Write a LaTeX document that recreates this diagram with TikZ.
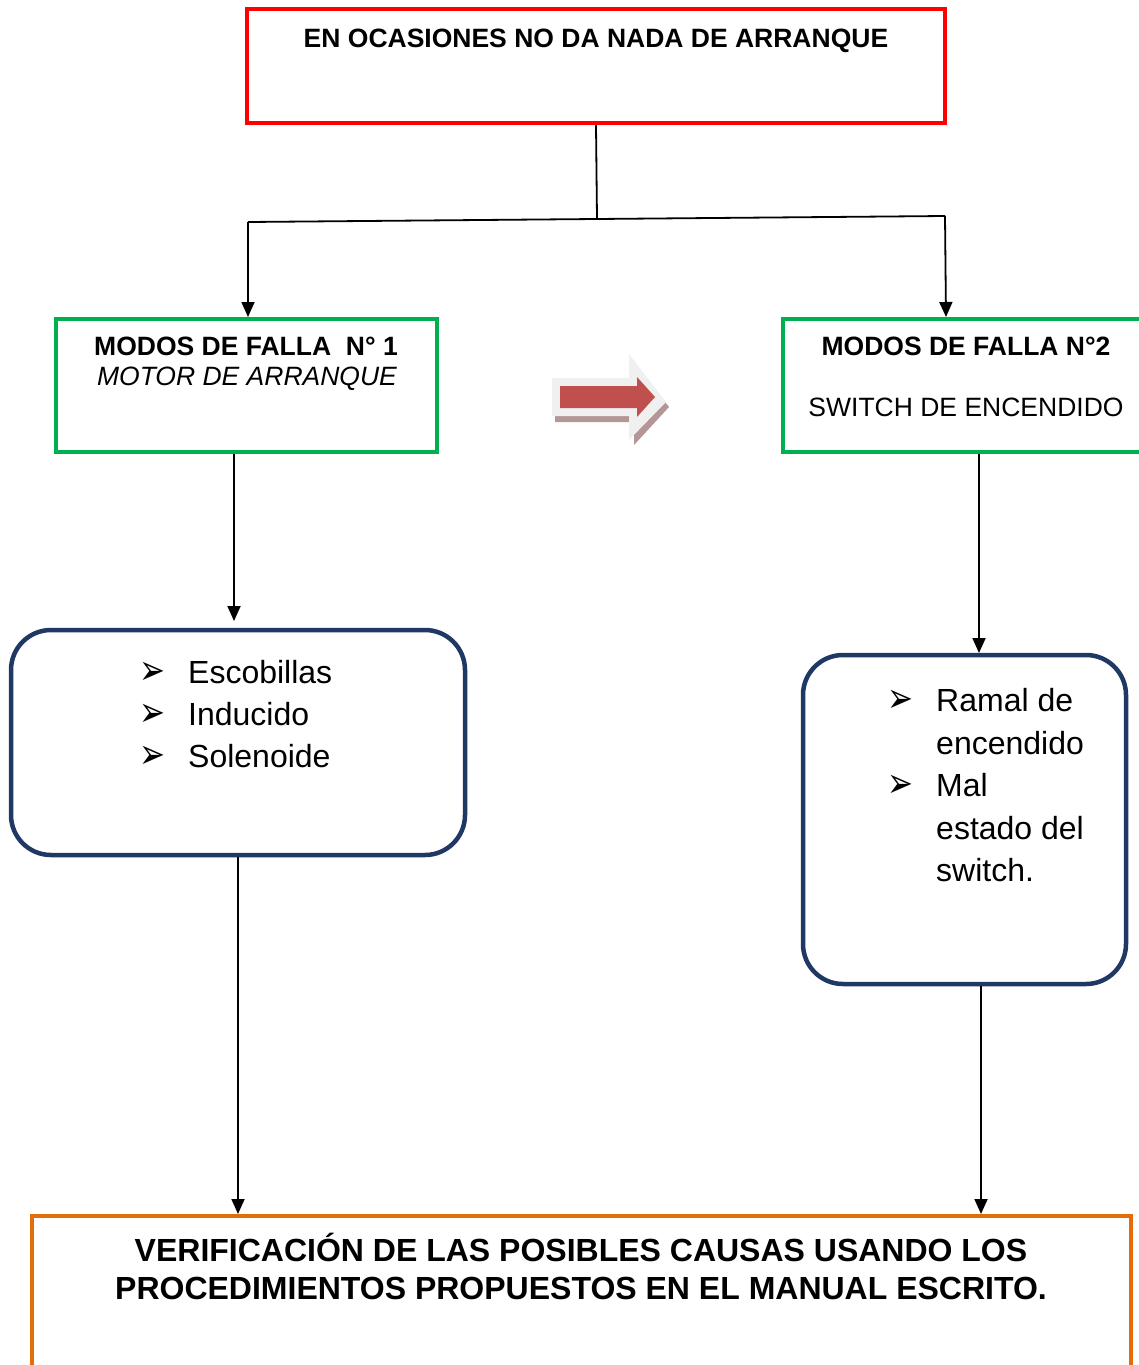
\documentclass[tikz,border=0pt]{standalone}
\usepackage{fontspec}
\setmainfont{Liberation Sans}
\newfontfamily\dvsans{DejaVu Sans}
\usetikzlibrary{arrows.meta}
\definecolor{boxred}{HTML}{FF0000}
\definecolor{boxgreen}{HTML}{00B050}
\definecolor{boxnavy}{HTML}{203864}
\definecolor{boxorange}{HTML}{E46C0A}
\definecolor{arrowred}{HTML}{C0504D}
\definecolor{arrowrim}{HTML}{F0F0F0}
\definecolor{arrowshade}{HTML}{B49696}
\newcommand{\tick}{\scalebox{1}[1.35]{➢}}
\tikzset{
  frame/.style={draw, line width=4.5pt, minimum width=#1, inner sep=0pt},
  softframe/.style={draw=boxnavy, line width=4.5pt, rounded corners=40pt, inner sep=0pt},
  link/.style={line width=1.8pt},
  flow/.style={link, -{Triangle[length=15pt,width=13pt]}},
  txt/.style={inner sep=0pt, font=\fontsize{32}{40}\selectfont},
  head/.style={inner sep=0pt, font=\fontsize{26.5}{32}\selectfont\bfseries},
  bul/.style={inner sep=0pt, anchor=center, font=\dvsans\fontsize{31}{34}\selectfont},
}
\begin{document}
\begin{tikzpicture}[x=1pt,y=-1pt]
\useasboundingbox (0,0) rectangle (1139,1365);
\clip (0,0) rectangle (1139,1365);

% top problem box
\node[frame=698pt, draw=boxred, minimum height=114pt] (top) at (596,66) {};
\node[head, anchor=base] (toptxt) at (596,47) {EN OCASIONES NO DA NADA DE ARRANQUE};

% failure mode boxes
\node[frame=381pt, draw=boxgreen, minimum height=133pt] (m1) at (246.5,385.5) {};
\node[head, anchor=base] (m1a) at (246,355) {MODOS DE FALLA\ \ N° 1};
\node[head, anchor=base, font=\fontsize{26.5}{32}\selectfont\mdseries\itshape] (m1b) at (247,385) {MOTOR DE ARRANQUE};

\node[frame=380pt, draw=boxgreen, minimum height=133pt] (m2) at (973,385.5) {};
\node[head, anchor=base] (m2a) at (966,355) {MODOS DE FALLA N°2};
\node[head, anchor=base, font=\fontsize{26.5}{32}\selectfont\mdseries] (m2b) at (966,416) {SWITCH DE ENCENDIDO};

% block arrow between the two modes
\fill[arrowshade] (555,383) -- (632,383) -- (632,360) -- (669,407) -- (634,445) -- (634,422) -- (555,422) -- cycle;
\fill[arrowrim] (552,378) -- (629,378) -- (629,354) -- (666,402) -- (629,440) -- (629,416) -- (552,416) -- cycle;
\fill[arrowred] (560,386) -- (637,386) -- (637,377) -- (655,397) -- (637,417) -- (637,408) -- (560,408) -- cycle;

% cause boxes
\node[softframe, minimum width=454pt, minimum height=225pt] (c1) at (238,742.5) {};
\node[bul] (c1b1) at (152,673) {\tick};
\node[txt, anchor=base west] (c1t1) at (188,683) {Escobillas};
\node[bul] (c1b2) at (152,715) {\tick};
\node[txt, anchor=base west] (c1t2) at (188,725) {Inducido};
\node[bul] (c1b3) at (152,757) {\tick};
\node[txt, anchor=base west] (c1t3) at (188,767) {Solenoide};

\node[softframe, minimum width=323pt, minimum height=329pt] (c2) at (964.5,819.5) {};
\node[bul] (c2b1) at (900,701) {\tick};
\node[txt, anchor=base west] (c2t1) at (936,711) {Ramal de};
\node[txt, anchor=base west] (c2t2) at (936,754) {encendido};
\node[bul] (c2b2) at (900,786) {\tick};
\node[txt, anchor=base west] (c2t3) at (936,796) {Mal};
\node[txt, anchor=base west] (c2t4) at (936,839) {estado del};
\node[txt, anchor=base west] (c2t5) at (936,881) {switch.};

% final verification box
\node[frame=1099pt, draw=boxorange, minimum height=200pt] (fin) at (581.5,1316) {};
\node[inner sep=0pt, anchor=base, font=\fontsize{32}{39}\selectfont\bfseries] (fin1) at (581,1261)
  {VERIFICACIÓN DE LAS POSIBLES CAUSAS USANDO LOS};
\node[inner sep=0pt, anchor=base, font=\fontsize{32}{39}\selectfont\bfseries] (fin2) at (581,1299)
  {PROCEDIMIENTOS PROPUESTOS EN EL MANUAL ESCRITO.};

% connectors
\coordinate (j) at (597,219);
\coordinate (jl) at (248,222);
\coordinate (jr) at (945,216);
\draw[link] (top.south) -- (j);
\draw[link] (jl) -- (jr);
\draw[flow] (jl) -- (248,317);
\draw[flow] (jr) -- (946,317);
\draw[flow] (m1.south -| 234,0) -- (234,621);
\draw[flow] (m2.south -| 979,0) -- (979,653);
\draw[flow] (c1.south) -- (238,1214);
\draw[flow] (c2.south -| 981,0) -- (981,1214);
\end{tikzpicture}
\end{document}
